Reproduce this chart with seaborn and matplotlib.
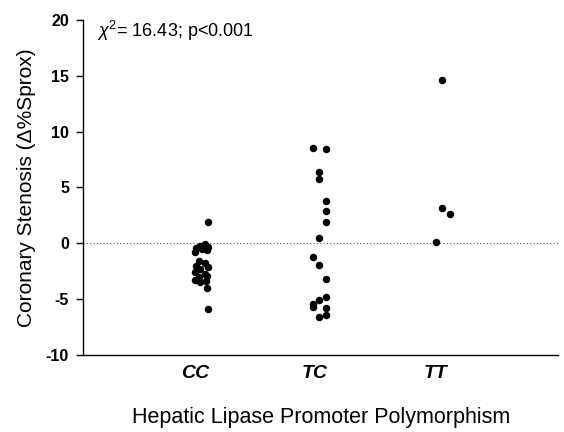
import numpy as np
import pandas as pd
import matplotlib
matplotlib.use("Agg")
import matplotlib.pyplot as plt
import seaborn as sns

# Hepatic lipase genotypes and the change in coronary stenosis (%Sprox)
genotypes = ["CC", "TC", "TT"]

cc_values = [1.9, -0.1, -0.2, -0.3, -0.4, -0.5, -0.6, -0.8, -1.6, -1.8, -2.0,
             -2.1, -2.3, -2.6, -2.7, -2.9, -3.0, -3.3, -3.4, -3.5, -4.0, -5.9]
tc_values = [8.5, 8.4, 6.4, 5.8, 3.8, 2.9, 1.9, 0.5, -1.2, -1.9, -3.2,
             -4.8, -5.1, -5.4, -5.7, -5.8, -6.4, -6.6]
tt_values = [14.6, 3.2, 2.6, 0.1]

# horizontal spread of the dots (category units)
cc_spread = [0.11, 0.08, 0.04, 0.11, 0.01, 0.06, 0.10, 0.00, 0.03, 0.08, 0.01,
             0.11, 0.04, 0.00, 0.08, 0.10, 0.03, 0.00, 0.09, 0.04, 0.10, 0.11]
tc_spread = [-0.02, 0.09, 0.03, 0.03, 0.09, 0.09, 0.09, 0.03, -0.02, 0.03, 0.09,
             0.09, 0.03, -0.02, -0.02, 0.09, 0.09, 0.03]
tt_spread = [0.06, 0.06, 0.12, 0.01]

chi_text = r"$\chi^2$= 16.43; p<0.001"

frames = []
for i, (vals, spread) in enumerate([(cc_values, cc_spread),
                                    (tc_values, tc_spread),
                                    (tt_values, tt_spread)]):
    frames.append(pd.DataFrame({"genotype": genotypes[i],
                                "pos": i + np.array(spread),
                                "stenosis": vals}))
df = pd.concat(frames, ignore_index=True)

sns.set_style("ticks")
plt.rcParams["font.family"] = ["Liberation Sans", "DejaVu Sans"]
plt.rcParams["mathtext.fontset"] = "custom"
plt.rcParams["mathtext.rm"] = "Liberation Sans"
plt.rcParams["mathtext.it"] = "Liberation Sans:italic"
plt.rcParams["text.color"] = "black"
plt.rcParams["axes.labelcolor"] = "black"
plt.rcParams["xtick.color"] = "black"
plt.rcParams["ytick.color"] = "black"
plt.rcParams["axes.edgecolor"] = "black"

fig = plt.figure(figsize=(5.64, 4.32), dpi=100)
ax = fig.add_axes([0.147, 0.178, 0.843, 0.776])

sns.scatterplot(data=df, x="pos", y="stenosis", ax=ax, color="black",
                s=29, edgecolor="black", linewidth=0, legend=False)

ax.axhline(0, color="#555555", linestyle=(0, (1, 2)), linewidth=0.8, zorder=0)

ax.set_xlim(-0.933, 3.025)
ax.set_ylim(-10, 20)
ax.set_yticks(np.arange(-10, 21, 5))
ax.set_yticklabels([str(v) for v in range(-10, 21, 5)], fontsize=11.5, fontweight="bold")
ax.set_xticks(range(len(genotypes)))
ax.set_xticklabels(genotypes, fontsize=14, fontweight="bold", fontstyle="italic")
ax.tick_params(axis="x", length=0, pad=7)
ax.tick_params(axis="y", length=5, width=1, direction="out", pad=5)

ax.set_ylabel("Coronary Stenosis (\u0394%Sprox)", fontsize=15, labelpad=7)
ax.set_xlabel("Hepatic Lipase Promoter Polymorphism", fontsize=15.5, labelpad=18)

ax.text(0.029, 0.949, chi_text, transform=ax.transAxes, fontsize=13,
        va="baseline", ha="left")

for side in ["top", "right"]:
    ax.spines[side].set_visible(False)
ax.spines["left"].set_linewidth(1.0)
ax.spines["bottom"].set_linewidth(1.0)

fig.savefig("out.png", dpi=100)
